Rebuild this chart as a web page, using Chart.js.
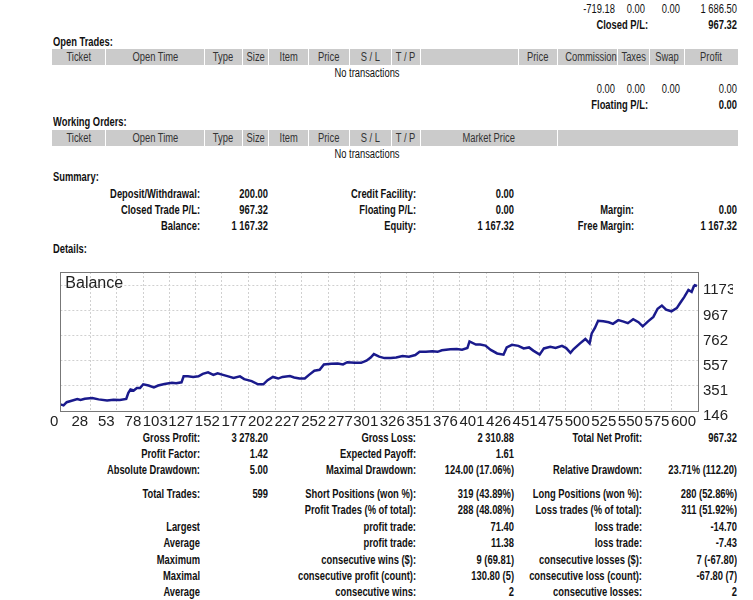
<!DOCTYPE html>
<html>
<head>
<meta charset="utf-8">
<script src="https://cdn.jsdelivr.net/npm/chart.js@4.4.1/dist/chart.umd.min.js"></script>
<style>
  html, body { margin: 0; padding: 0; background: #fff; }
  body { position: relative; width: 753px; height: 600px; overflow: hidden;
         font-family: "Liberation Sans", Arial, sans-serif; font-size: 12px; color: #111; }
  .t { position: absolute; height: 14px; line-height: 14px; white-space: nowrap; transform: scaleX(0.78); }
  .t.r { text-align: right; transform-origin: right center; }
  .t.c { text-align: center; transform-origin: center center; }
  .t.l { transform-origin: left center; }
  .b { font-weight: bold; }
  .cell { position: absolute; height: 16px; line-height: 16px; background: #cbcbcb;
          text-align: center; color: #333; white-space: nowrap; overflow: hidden; }
  .cell span { display: inline-block; transform: scaleX(0.78); }
  #chartBox { position: absolute; left: 50px; top: 258px; width: 700px; height: 172px; }
</style>
</head>
<body>
<div id="chartBox"><canvas id="balanceChart"></canvas></div>
<script>
// Balance curve (trade number -> balance)
const tradeNo = [0, 3, 6, 16, 19, 23, 30, 36, 44, 50, 56, 62, 64, 66, 69, 72, 75, 78, 83, 88,
  92, 98, 105, 109, 114, 116, 120, 125, 130, 134, 139, 144, 148, 153, 158, 163, 169, 173, 180, 186,
  191, 195, 200, 205, 209, 216, 220, 225, 230, 234, 239, 244, 248, 255, 261, 266, 270, 277, 283, 288,
  292, 295, 300, 305, 311, 316, 322, 328, 334, 338, 344, 350, 355, 359, 367, 373, 378, 383, 385, 391,
  395, 400, 405, 411, 417, 420, 425, 431, 436, 441, 445, 451, 455, 461, 466, 472, 476, 480, 483, 489,
  494, 498, 500, 503, 506, 511, 516, 520, 525, 530, 534, 539, 544, 548, 553, 558, 562, 566, 570, 575,
  580, 584, 587, 591, 594, 596, 597, 599];
const balance = [200, 192, 218, 244, 236, 246, 252, 241, 231, 238, 236, 244, 295, 321, 313, 333, 333, 364, 354, 339,
  354, 367, 377, 372, 380, 429, 429, 424, 429, 449, 462, 441, 454, 441, 429, 416, 429, 406, 390, 364,
  364, 398, 424, 411, 424, 431, 420, 411, 411, 441, 475, 482, 526, 531, 534, 526, 544, 539, 539, 557,
  583, 611, 590, 578, 578, 583, 595, 590, 603, 629, 629, 634, 629, 642, 650, 652, 647, 660, 714, 688,
  688, 680, 645, 616, 606, 665, 686, 678, 657, 665, 639, 606, 657, 670, 660, 678, 660, 621, 652, 698,
  734, 698, 780, 824, 883, 878, 871, 858, 888, 876, 863, 896, 871, 837, 878, 914, 981, 1007, 973, 960,
  986, 1038, 1076, 1135, 1119, 1163, 1173, 1167];

const xTickValues = [0, 28, 53, 78, 103, 127, 152, 177, 202, 227, 252, 277, 301, 326, 351, 376,
  401, 426, 451, 475, 500, 525, 550, 575, 600];
const yTickValues = [146, 351, 557, 762, 967, 1173];

// ---- report text around the chart ----
function txt(str, x, y, align, bold) {
  const el = document.createElement('div');
  el.className = 't ' + (align || 'l') + (bold ? ' b' : '');
  el.textContent = str;
  el.style.top = (y - 7) + 'px';
  if (align === 'r') { el.style.left = (x - 300) + 'px'; el.style.width = '300px'; }
  else if (align === 'c') { el.style.left = (x - 150) + 'px'; el.style.width = '300px'; }
  else el.style.left = x + 'px';
  document.body.appendChild(el);
}

function headerRow(top, edges, labels) {
  for (let i = 0; i < edges.length - 1; i++) {
    const el = document.createElement('div');
    el.className = 'cell';
    el.style.top = top + 'px';
    el.style.left = edges[i] + 'px';
    el.style.width = (edges[i + 1] - edges[i] - 1) + 'px';
    el.innerHTML = '<span></span>';
    el.firstChild.textContent = labels[i] || '';
    document.body.appendChild(el);
  }
}

txt('-719.18', 615, 9, 'r'); txt('0.00', 645, 9, 'r'); txt('0.00', 680, 9, 'r'); txt('1 686.50', 737, 9, 'r');
txt('Closed P/L:', 648, 25, 'r', true); txt('967.32', 737, 25, 'r', true);

txt('Open Trades:', 53, 42, 'l', true);
headerRow(49, [52, 106, 205, 243, 269, 309, 350, 392, 421, 519, 558, 618, 650, 685, 739],
  ['Ticket', 'Open Time', 'Type', 'Size', 'Item', 'Price', 'S / L', 'T / P', '', 'Price', 'Commission', 'Taxes', 'Swap', 'Profit']);
txt('No transactions', 367, 73, 'c');
txt('0.00', 615, 89, 'r'); txt('0.00', 645, 89, 'r'); txt('0.00', 680, 89, 'r'); txt('0.00', 737, 89, 'r');
txt('Floating P/L:', 648, 105, 'r', true); txt('0.00', 737, 105, 'r', true);

txt('Working Orders:', 53, 122, 'l', true);
headerRow(130, [52, 106, 205, 243, 269, 309, 350, 392, 421, 558, 739],
  ['Ticket', 'Open Time', 'Type', 'Size', 'Item', 'Price', 'S / L', 'T / P', 'Market Price', '']);
txt('No transactions', 367, 154, 'c');

txt('Summary:', 53, 177, 'l', true);
const summaryRows = [
  ['Deposit/Withdrawal:', '200.00', 'Credit Facility:', '0.00', '', ''],
  ['Closed Trade P/L:', '967.32', 'Floating P/L:', '0.00', 'Margin:', '0.00'],
  ['Balance:', '1 167.32', 'Equity:', '1 167.32', 'Free Margin:', '1 167.32']
];
summaryRows.forEach((row, i) => {
  const y = 194 + i * 16;
  txt(row[0], 200, y, 'r', true); txt(row[1], 268, y, 'r', true);
  txt(row[2], 416, y, 'r', true); txt(row[3], 514, y, 'r', true);
  txt(row[4], 634, y, 'r', true); txt(row[5], 737, y, 'r', true);
});
txt('Details:', 53, 249, 'l', true);

const statRows = [
  [438, 'Gross Profit:', '3 278.20', 'Gross Loss:', '2 310.88', 'Total Net Profit:', '967.32'],
  [454, 'Profit Factor:', '1.42', 'Expected Payoff:', '1.61', '', ''],
  [470, 'Absolute Drawdown:', '5.00', 'Maximal Drawdown:', '124.00 (17.06%)', 'Relative Drawdown:', '23.71% (112.20)'],
  [494, 'Total Trades:', '599', 'Short Positions (won %):', '319 (43.89%)', 'Long Positions (won %):', '280 (52.86%)'],
  [510, '', '', 'Profit Trades (% of total):', '288 (48.08%)', 'Loss trades (% of total):', '311 (51.92%)'],
  [527, 'Largest', '', 'profit trade:', '71.40', 'loss trade:', '-14.70'],
  [543, 'Average', '', 'profit trade:', '11.38', 'loss trade:', '-7.43'],
  [560, 'Maximum', '', 'consecutive wins ($):', '9 (69.81)', 'consecutive losses ($):', '7 (-67.80)'],
  [576, 'Maximal', '', 'consecutive profit (count):', '130.80 (5)', 'consecutive loss (count):', '-67.80 (7)'],
  [592, 'Average', '', 'consecutive wins:', '2', 'consecutive losses:', '2']
];
statRows.forEach(r => {
  txt(r[1], 200, r[0], 'r', true); txt(r[2], 268, r[0], 'r', true);
  txt(r[3], 416, r[0], 'r', true); txt(r[4], 514, r[0], 'r', true);
  txt(r[5], 642, r[0], 'r', true); txt(r[6], 737, r[0], 'r', true);
});

// ---- balance chart ----
const frameAndTitle = {
  id: 'frameAndTitle',
  afterDraw(chart) {
    const { ctx, chartArea: a } = chart;
    ctx.save();
    ctx.strokeStyle = '#777';
    ctx.lineWidth = 1;
    ctx.strokeRect(Math.round(a.left) + 0.5, Math.round(a.top) + 0.5, Math.round(a.width), Math.round(a.height));
    ctx.fillStyle = '#222';
    ctx.font = '16px "Liberation Sans", sans-serif';
    ctx.textBaseline = 'middle';
    ctx.fillText('Balance', a.left + 5, a.top + 12);
    ctx.restore();
  }
};

new Chart(document.getElementById('balanceChart'), {
  type: 'line',
  data: {
    datasets: [{
      label: 'Balance',
      data: tradeNo.map((t, i) => ({ x: t, y: balance[i] })),
      borderColor: '#1a1a8c',
      borderWidth: 2.5,
      pointRadius: 0,
      tension: 0,
      fill: false
    }]
  },
  options: {
    responsive: true,
    maintainAspectRatio: false,
    animation: false,
    layout: { padding: { left: 8, right: 17, top: 6, bottom: 3 } },
    plugins: { legend: { display: false }, tooltip: { enabled: false } },
    scales: {
      x: {
        type: 'linear',
        min: 0,
        max: 600,
        afterBuildTicks: axis => { axis.ticks = xTickValues.map(v => ({ value: v })); },
        afterFit: axis => { axis.height = 16; },
        grid: { color: '#d0d0d0', drawTicks: false },
        border: { display: false, dash: [2, 2] },
        ticks: {
          autoSkip: false, maxRotation: 0, align: 'end', labelOffset: -2, padding: 2,
          color: '#222', font: { family: '"Liberation Sans", sans-serif', size: 15 },
          callback: v => String(v)
        }
      },
      y: {
        position: 'right',
        min: 146,
        max: 1281,
        afterBuildTicks: axis => { axis.ticks = yTickValues.map(v => ({ value: v })); },
        afterFit: axis => { axis.width = 35; },
        grid: { color: '#d0d0d0', drawTicks: false },
        border: { display: false, dash: [2, 2] },
        ticks: {
          padding: 5, labelOffset: 5, color: '#222',
          font: { family: '"Liberation Sans", sans-serif', size: 15 },
          callback: v => String(v)
        }
      }
    }
  },
  plugins: [frameAndTitle]
});
</script>
</body>
</html>
